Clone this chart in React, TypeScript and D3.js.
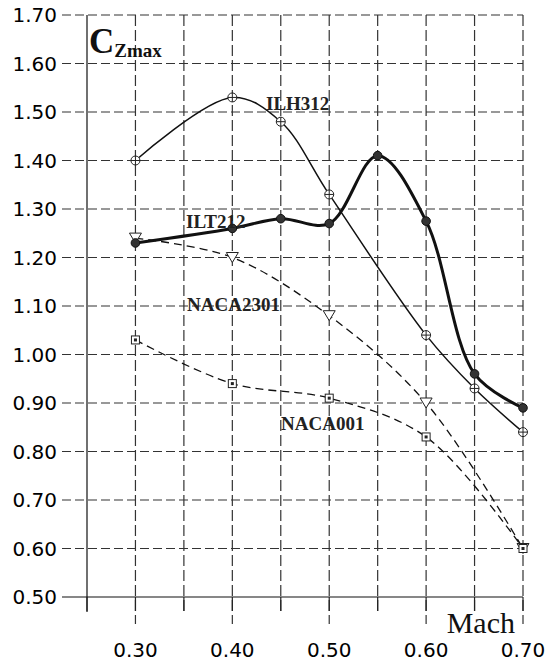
import React, { useEffect, useRef } from 'react'
import * as d3 from 'd3'

// Mach numbers and Cz max values
const machTicks = [0.3, 0.4, 0.5, 0.6, 0.7]
const czTicks = [0.5, 0.6, 0.7, 0.8, 0.9, 1.0, 1.1, 1.2, 1.3, 1.4, 1.5, 1.6, 1.7]
const gridMach = [0.25, 0.3, 0.35, 0.4, 0.45, 0.5, 0.55, 0.6, 0.65, 0.7]

const ilh312Mach = [0.3, 0.4, 0.45, 0.5, 0.6, 0.65, 0.7]
const ilh312Cz = [1.4, 1.53, 1.48, 1.33, 1.04, 0.93, 0.84]

const ilt212Mach = [0.3, 0.4, 0.45, 0.5, 0.55, 0.6, 0.65, 0.7]
const ilt212Cz = [1.23, 1.26, 1.28, 1.27, 1.41, 1.275, 0.96, 0.89]

const naca2301Mach = [0.3, 0.4, 0.5, 0.6, 0.7]
const naca2301Cz = [1.24, 1.2, 1.08, 0.9, 0.6]

const naca001Mach = [0.3, 0.4, 0.5, 0.6, 0.7]
const naca001Cz = [1.03, 0.94, 0.91, 0.83, 0.6]

type Pt = [number, number]
const zip = (xs: number[], ys: number[]): Pt[] => xs.map((x, i) => [x, ys[i]])

export default function App() {
  const ref = useRef<SVGSVGElement>(null)

  useEffect(() => {
    const width = 553, height = 663
    const svg = d3.select(ref.current)
    svg.selectAll('*').remove()
    svg.attr('width', width).attr('height', height)

    const x = d3.scaleLinear().domain([0.25, 0.7]).range([87, 523])
    const y = d3.scaleLinear().domain([0.5, 1.7]).range([597, 15])

    // grid
    const grid = svg.append('g')
    czTicks.forEach(v => {
      grid.append('line')
        .attr('x1', 62).attr('x2', x(0.7))
        .attr('y1', y(v)).attr('y2', y(v))
        .attr('stroke', v === 0.5 ? '#111' : '#333')
        .attr('stroke-width', 1.2)
        .attr('stroke-dasharray', v === 0.5 ? null : '9,4')
    })
    gridMach.forEach(m => {
      const major = machTicks.some(t => Math.abs(t - m) < 1e-9)
      const bottom = major ? 624 : 612
      grid.append('line')
        .attr('x1', x(m)).attr('x2', x(m))
        .attr('y1', y(1.7)).attr('y2', bottom)
        .attr('stroke', m === 0.25 ? '#111' : '#333')
        .attr('stroke-width', 1.2)
        .attr('stroke-dasharray', m === 0.25 ? null : '11,4')
    })
    // short solid ticks below axis on the axis line
    gridMach.forEach(m => {
      grid.append('line')
        .attr('x1', x(m)).attr('x2', x(m))
        .attr('y1', y(0.5)).attr('y2', y(0.5) + 14)
        .attr('stroke', '#222').attr('stroke-width', 1.2)
    })

    // tick labels
    svg.append('g').selectAll('text').data(czTicks).enter().append('text')
      .attr('x', 57).attr('y', d => y(d) + 7)
      .attr('text-anchor', 'end')
      .attr('font-family', 'DejaVu Sans')
      .attr('font-size', 20)
      .attr('fill', '#000')
      .text(d => d.toFixed(2))
    svg.append('g').selectAll('text').data(machTicks).enter().append('text')
      .attr('x', d => x(d)).attr('y', 657)
      .attr('text-anchor', 'middle')
      .attr('font-family', 'DejaVu Sans')
      .attr('font-size', 20)
      .attr('fill', '#000')
      .text(d => d.toFixed(2))

    // axis titles
    const cz = svg.append('text')
      .attr('x', 89).attr('y', 53)
      .attr('font-family', 'Liberation Serif')
      .attr('font-weight', 'bold')
      .attr('fill', '#111')
    cz.append('tspan').attr('font-size', 35).text('C')
    cz.append('tspan').attr('font-size', 19).attr('dy', 4).text('Zmax')

    svg.append('text')
      .attr('x', 515).attr('y', 633)
      .attr('text-anchor', 'end')
      .attr('font-family', 'Liberation Serif')
      .attr('font-size', 30)
      .attr('fill', '#111')
      .text('Mach')

    const curve = d3.curveCatmullRom.alpha(0.5)
    const line = d3.line<Pt>().x(d => x(d[0])).y(d => y(d[1])).curve(curve)

    const ilh = zip(ilh312Mach, ilh312Cz)
    const ilt = zip(ilt212Mach, ilt212Cz)
    const n2301 = zip(naca2301Mach, naca2301Cz)
    const n001 = zip(naca001Mach, naca001Cz)

    svg.append('path').attr('d', line(n2301)).attr('fill', 'none')
      .attr('stroke', '#111').attr('stroke-width', 1.3).attr('stroke-dasharray', '8,5')
    svg.append('path').attr('d', line(n001)).attr('fill', 'none')
      .attr('stroke', '#111').attr('stroke-width', 1.3).attr('stroke-dasharray', '8,5')
    svg.append('path').attr('d', line(ilh)).attr('fill', 'none')
      .attr('stroke', '#111').attr('stroke-width', 1.5)
    svg.append('path').attr('d', line(ilt)).attr('fill', 'none')
      .attr('stroke', '#111').attr('stroke-width', 3)

    // markers
    const mk = svg.append('g')
    ilh.forEach(([m, c]) => {
      const cx = x(m), cy = y(c)
      mk.append('circle').attr('cx', cx).attr('cy', cy).attr('r', 4.5)
        .attr('fill', 'white').attr('stroke', '#222').attr('stroke-width', 1)
      mk.append('path').attr('d', `M${cx - 4.5},${cy}H${cx + 4.5}M${cx},${cy - 4.5}V${cy + 4.5}`)
        .attr('stroke', '#222').attr('stroke-width', 1)
    })
    n2301.forEach(([m, c]) => {
      const cx = x(m), cy = y(c)
      mk.append('path').attr('d', `M${cx - 6},${cy - 5}H${cx + 6}L${cx},${cy + 5}Z`)
        .attr('fill', 'white').attr('stroke', '#222').attr('stroke-width', 1)
    })
    n001.forEach(([m, c]) => {
      const cx = x(m), cy = y(c)
      mk.append('rect').attr('x', cx - 4).attr('y', cy - 4).attr('width', 8).attr('height', 8)
        .attr('fill', 'white').attr('stroke', '#222').attr('stroke-width', 1)
      mk.append('rect').attr('x', cx - 1.5).attr('y', cy - 1.5).attr('width', 3).attr('height', 3)
        .attr('fill', '#222')
    })
    ilt.forEach(([m, c]) => {
      const cx = x(m), cy = y(c)
      mk.append('circle').attr('cx', cx).attr('cy', cy).attr('r', 4.3)
        .attr('fill', '#333').attr('stroke', '#111').attr('stroke-width', 1)
    })

    // series labels
    const labels: [string, number, number][] = [
      ['ILH312', 266, 110],
      ['ILT212', 186, 228],
      ['NACA2301', 187, 311],
      ['NACA001', 281, 430],
    ]
    svg.append('g').selectAll('text').data(labels).enter().append('text')
      .attr('x', d => d[1]).attr('y', d => d[2])
      .attr('font-family', 'Liberation Serif')
      .attr('font-weight', 'bold')
      .attr('font-size', 19)
      .attr('fill', '#222')
      .text(d => d[0])
  }, [])

  return <svg ref={ref} style={{ position: 'absolute', left: 0, top: 0, background: 'white' }} />
}
